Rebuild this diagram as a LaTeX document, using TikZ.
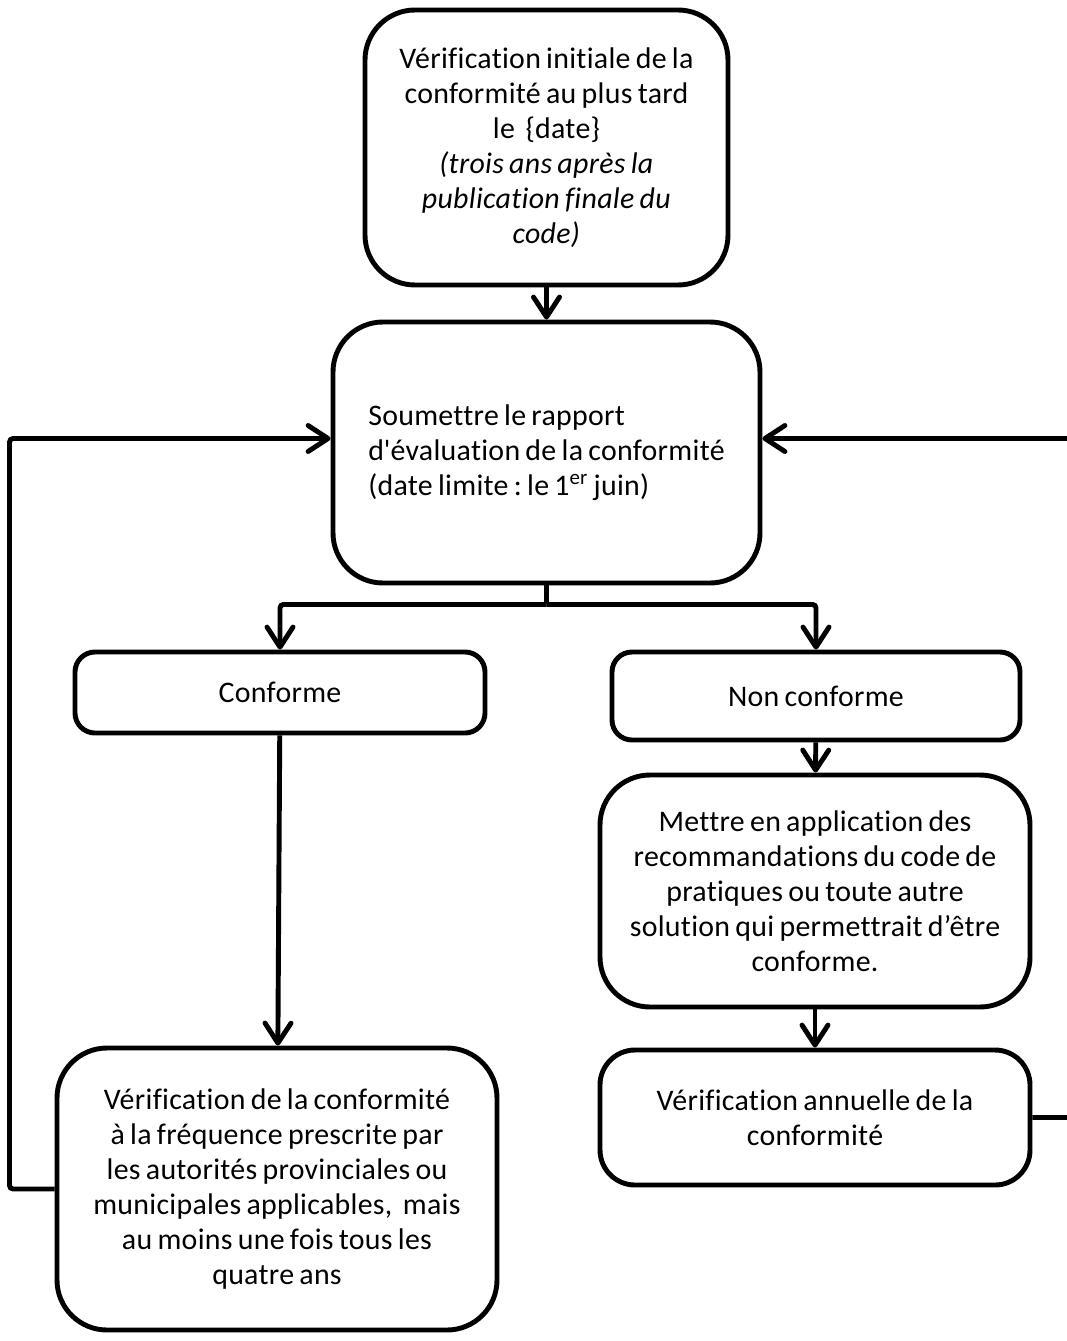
\documentclass[tikz,border=0pt]{standalone}
\usepackage{fontspec}
\setmainfont{Carlito}[LetterSpace=1.0, WordSpace=0.75, Ligatures=NoCommon]
\frenchspacing
\usetikzlibrary{positioning,calc,arrows.meta}
\tikzset{
box/.style={
  draw,
  line width=2.8pt,
  rounded corners=1cm,
  align=center,
  inner sep=0pt,
  font=\fontsize{17}{19.9}\selectfont
  },
smallbox/.style={box, rounded corners=0.4cm},
link/.style={
  line width=2.8pt,
  -{Straight Barb[length=0.4cm,width=0.52cm,line width=2.8pt,round]}
  },
line/.style={line width=2.8pt}
}

\begin{document}
\begin{tikzpicture}
    \useasboundingbox (0,0) rectangle (21.34,-26.82);
    \clip (0,0) rectangle (21.34,-26.82);

    \node [box, minimum width=7.26cm, minimum height=5.5cm] (init) at (10.93,-2.95)
        {Vérification initiale de la\\ conformité au plus tard\\ le~~{\{}date{\}}\\
         \textit{(trois ans après la}\\ \textit{publication finale du}\\ \textit{code)}};
    \node [box, minimum width=8.54cm, minimum height=5.22cm, align=left] (report) at (10.93,-9.05)
        {Soumettre le rapport\\ d\textquotesingle évaluation de la conformité\\ (date limite : le 1\textsuperscript{er} juin)};
    \node [smallbox, minimum width=8.2cm, minimum height=1.62cm] (ok) at (5.6,-13.85) {Conforme};
    \node [smallbox, minimum width=8.16cm, minimum height=1.76cm] (nok) at (16.32,-13.92) {Non conforme};
    \node [box, minimum width=8.6cm, minimum height=4.64cm] (fix) at (16.3,-17.82)
        {Mettre en application des\\ recommandations du code de\\ pratiques ou toute autre\\
         solution qui permettrait d’être\\ conforme.};
    \node [box, rounded corners=0.7cm, minimum width=8.6cm, minimum height=2.7cm] (annual) at (16.3,-22.35)
        {Vérification annuelle de la\\ conformité};
    \node [box, minimum width=8.8cm, minimum height=5.64cm] (periodic) at (5.54,-23.78)
        {Vérification de la conformité\\ à la fréquence prescrite par\\ les autorités provinciales ou\\
         municipales applicables,~~mais\\ au moins une fois tous les\\ quatre ans};

    % main flow
    \draw [link] (init) -- (report);
    \coordinate (split) at ($(report.south)+(0,-0.38)$);
    \draw [line] (report.south) -- (split);
    \foreach \target in {ok, nok}
    {
        \draw [link, rounded corners=2pt] (split) -| (\target.north);
    }
    \draw [link] (ok) -- (periodic);
    \draw [link] (nok) -- (fix);
    \draw [link] (fix) -- (annual);

    % loops back to the report
    \coordinate (inleft) at ($(report.west)+(0,0.28)$);
    \coordinate (inright) at ($(report.east)+(0,0.28)$);
    \draw [link, rounded corners=2pt] (periodic.west) -- ++(-0.9,0) |- (inleft);
    \draw [link, rounded corners=2pt] (annual.east) -- (22,0 |- annual.east) |- (inright);

\end{tikzpicture}
\end{document}
